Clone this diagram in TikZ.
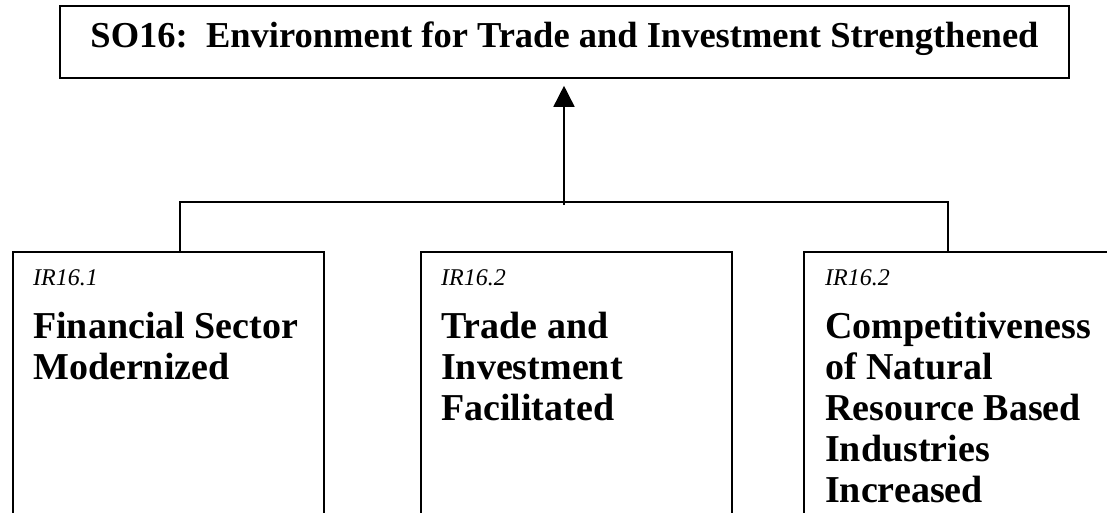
\documentclass[tikz,border=0pt]{standalone}
\usepackage{fontspec}
\setmainfont{Liberation Serif}
\usetikzlibrary{arrows.meta}
\tikzstyle{con}=[draw=black,line width=1.6pt]
\tikzstyle{sobox}=[con,inner sep=0pt,minimum width=1009pt,text height=42pt,text depth=30pt,font=\fontsize{36.5}{40}\selectfont\bfseries]
\tikzstyle{irbox}=[con,anchor=north west,minimum width=311pt,minimum height=320pt,inner sep=0pt]
\tikzstyle{irlab}=[anchor=base west,inner sep=0pt,font=\fontsize{24}{28}\selectfont\itshape]
\tikzstyle{irtext}=[anchor=base west,inner sep=0pt,align=left,font=\fontsize{38}{41}\selectfont\bfseries]
\tikzstyle{arr}=[con,-{Triangle[width=21pt,length=21pt]}]

\begin{document}
\begin{tikzpicture}[x=1pt,y=1pt]
	\useasboundingbox (0,0) rectangle (1107,-513);
	\clip (0,0) rectangle (1107,-513);
	\node[sobox,anchor=base] (so) at (564.5,-48) {SO16:\ \ Environment for Trade and Investment Strengthened};
	\foreach \x/\n in {12/1,420/2,803/3}
	\node[irbox] (ir\n) at (\x,-251) {};
	\foreach \x/\n/\t in {33/1/IR16.1,441/2/IR16.2,825/3/IR16.2}
	\node[irlab] (lab\n) at (\x,-285) {\t};
	% base is the last line
	\node[irtext] (txt1) at (33,-379) {Financial Sector\\Modernized};
	\node[irtext] (txt2) at (441,-420) {Trade and\\Investment\\Facilitated};
	\node[irtext] (txt3) at (825,-502) {Competitiveness\\of Natural\\Resource Based\\Industries\\Increased};
	\coordinate (hub) at (564,-202);
	\coordinate (left) at (180,-202);
	\coordinate (right) at (948,-202);
	\draw[con] (ir1.north -| left) -- (left) -- (right) -- (ir3.north -| right);
	\draw[arr,shorten >=7pt] ([yshift=-3pt]hub) -- (hub |- so.south);
\end{tikzpicture}
\end{document}
